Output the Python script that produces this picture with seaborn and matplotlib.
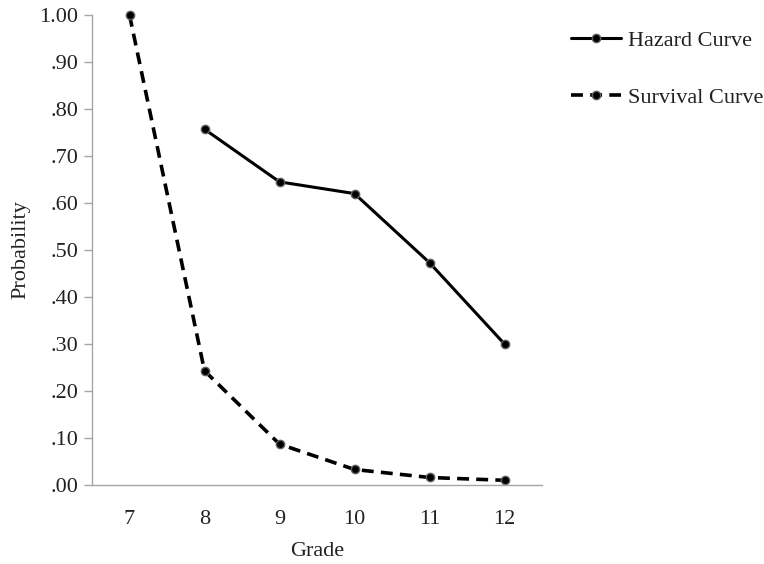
"""
Hazard and survival curves by grade
"""
import matplotlib
matplotlib.use("Agg")
import matplotlib.pyplot as plt
import seaborn as sns
import pandas as pd
from matplotlib.ticker import FuncFormatter

# data
grades = ["7", "8", "9", "10", "11", "12"]
hazard = [None, 0.757, 0.645, 0.620, 0.473, 0.300]
survival = [1.000, 0.243, 0.087, 0.033, 0.016, 0.010]

sns.set_theme(style="white")
plt.rcParams['font.family'] = ['Liberation Serif', 'DejaVu Serif']

FS = 16
TXT = "#222222"

df = pd.DataFrame({"Grade": grades, "Hazard": hazard, "Survival": survival})
df["pos"] = range(len(grades))

fig = plt.figure(figsize=(7.64, 5.64), dpi=100)
ax = fig.add_axes([92 / 764, 79 / 564, 450 / 764, 470 / 564])

marker_kw = dict(marker="o", markersize=6, markeredgecolor="#606060",
                 markerfacecolor="black", markeredgewidth=1.0, clip_on=False)

haz = df.dropna(subset=["Hazard"])
sns.lineplot(data=haz, x="pos", y="Hazard", ax=ax, color="black", linewidth=2.2,
             label="Hazard Curve", **marker_kw)
sns.lineplot(data=df, x="pos", y="Survival", ax=ax, color="black", linewidth=2.6,
             linestyle=(0, (3.3, 2.0)), label="Survival Curve", **marker_kw)

ax.set_xlim(-0.5, len(grades) - 0.5)
ax.set_ylim(0, 1.0)
ax.set_xticks(df["pos"])
ax.set_xticklabels(grades)
ax.set_yticks([i / 10 for i in range(11)])
ax.yaxis.set_major_formatter(FuncFormatter(
    lambda v, _: "1.00" if v >= 0.999 else ("%.2f" % v)[1:]))

ax.set_xlabel("Grade", fontsize=FS, color=TXT, labelpad=9)
ax.set_ylabel("Probability", fontsize=FS, color=TXT, labelpad=6)

for side in ["top", "right"]:
    ax.spines[side].set_visible(False)
for side in ["left", "bottom"]:
    ax.spines[side].set_color("#a6a6a6")
    ax.spines[side].set_linewidth(1.0)

ax.tick_params(axis="y", which="both", left=True, length=6, width=1.0,
               color="#a6a6a6", labelsize=FS, labelcolor=TXT, pad=4)
ax.tick_params(axis="x", bottom=False, labelsize=FS, labelcolor=TXT, pad=12)
ax.grid(False)

handles, labels = ax.get_legend_handles_labels()
ax.get_legend().remove()
fig.legend(handles, labels, loc="upper left", bbox_to_anchor=(551 / 764, 1 - 10 / 564),
           frameon=False, fontsize=FS, handlelength=2.25, handletextpad=0.3,
           labelspacing=1.65, labelcolor=TXT)

plt.savefig("out.png", dpi=100)
